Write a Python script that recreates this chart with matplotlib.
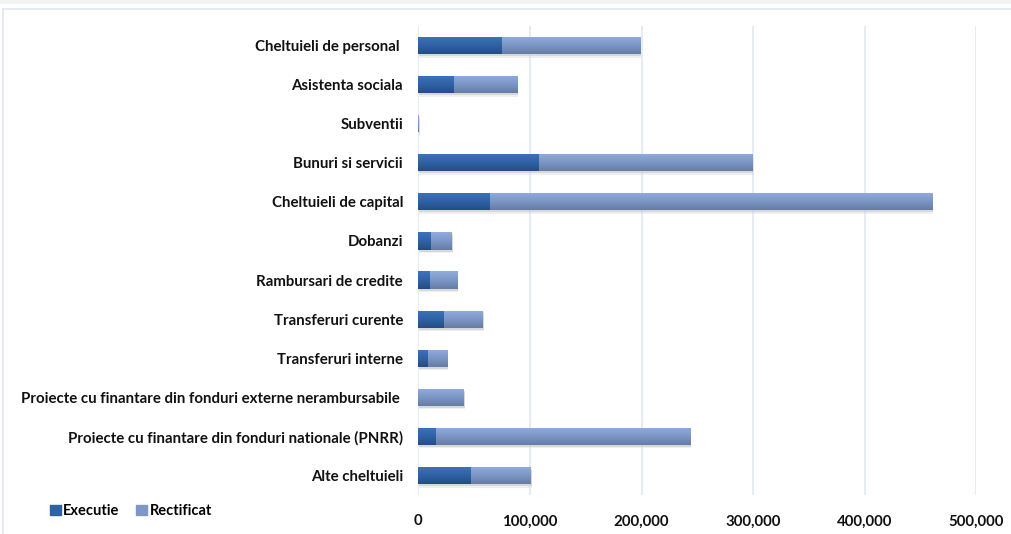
import matplotlib
matplotlib.use("Agg")
import matplotlib.pyplot as plt
import numpy as np
from matplotlib.patches import Rectangle
from matplotlib.colors import LinearSegmentedColormap
from matplotlib.ticker import FuncFormatter

categories = [
    "Cheltuieli de personal ",
    "Asistenta sociala",
    "Subventii",
    "Bunuri si servicii",
    "Cheltuieli de capital",
    "Dobanzi",
    "Rambursari de credite",
    "Transferuri curente",
    "Transferuri interne",
    "Proiecte cu finantare din fonduri externe nerambursabile ",
    "Proiecte cu finantare din fonduri nationale (PNRR)",
    "Alte cheltuieli",
]
executie = [75000, 31900, 0, 108200, 64200, 11300, 10400, 23000, 8600, 0, 15800, 47200]
rectificat = [123700, 56500, 600, 191600, 396400, 18800, 24200, 34900, 17100, 40900, 227800, 53700]
xticks = [0, 100000, 200000, 300000, 400000, 500000]

FONT = ["Lato", "DejaVu Sans"]
plt.rcParams["font.family"] = FONT

fig = plt.figure(figsize=(10.11, 5.34), dpi=100)
fig.patch.set_facecolor("white")

# light grey strip along the top and thin frame around the chart area
fig.patches.append(Rectangle((0, 1 - 3.5 / 534), 1, 3.5 / 534, transform=fig.transFigure,
                             facecolor="#f2f2f2", edgecolor="none", zorder=0))
fig.lines.append(plt.Line2D([3 / 1011, 3 / 1011], [0, 1 - 9 / 534], transform=fig.transFigure,
                            color="#dfe7f3", lw=1.2))
fig.lines.append(plt.Line2D([3 / 1011, 1], [1 - 9 / 534, 1 - 9 / 534], transform=fig.transFigure,
                            color="#dfe7f3", lw=1.2))

ax = fig.add_axes([418.4 / 1011, 1 - 495 / 534, (976.3 - 418.4) / 1011, (495 - 26) / 534])
ax.set_facecolor("none")

y = np.arange(len(categories))
h = 0.44

dark_cmap = LinearSegmentedColormap.from_list("dark", ["#3c74bb", "#2f63a5", "#234d85"])
light_cmap = LinearSegmentedColormap.from_list("light", ["#8fadde", "#7c97c6", "#667ca3"])

bars_e = ax.barh(y, executie, height=h, color="#2f62a3", edgecolor="none", zorder=3,
                 label="Executie")
bars_r = ax.barh(y, rectificat, left=executie, height=h, color="#7d97c6", edgecolor="none",
                 zorder=3, label="Rectificat")

grad = np.linspace(0, 1, 64).reshape(-1, 1)
for bars, cmap in ((bars_e, dark_cmap), (bars_r, light_cmap)):
    for b in bars:
        x0, y0, w, hh = b.get_x(), b.get_y(), b.get_width(), b.get_height()
        if w <= 0:
            continue
        # soft drop shadow just below each bar
        ax.add_patch(Rectangle((x0 + 500, y0 + 0.05), w, hh, facecolor="#bdbdbd",
                               edgecolor="none", alpha=0.45, zorder=2))
        ax.add_patch(Rectangle((x0 + 900, y0 + 0.09), w, hh, facecolor="#d9d9d9",
                               edgecolor="none", alpha=0.4, zorder=1.9))
        im = ax.imshow(grad, cmap=cmap, aspect="auto", extent=(x0, x0 + w, y0 + hh, y0),
                       origin="upper", zorder=3.5, interpolation="bilinear")
        im.set_clip_path(b)

ax.set_xlim(0, 500000)
ax.set_ylim(len(categories) - 0.5, -0.5)
ax.set_xticks(xticks)
ax.xaxis.set_major_formatter(FuncFormatter(lambda v, p: f"{int(v):,}"))
ax.set_yticks(y)
ax.set_yticklabels(categories)
ax.grid(axis="x", color="#e1e9f4", lw=1.2, zorder=0)
for s in ax.spines.values():
    s.set_visible(False)
ax.tick_params(axis="both", length=0)
ax.tick_params(axis="y", pad=11)
ax.tick_params(axis="x", pad=14)
for lbl in ax.get_yticklabels():
    lbl.set_fontsize(10.8)
    lbl.set_fontweight("bold")
    lbl.set_color("#111111")
for lbl in ax.get_xticklabels():
    lbl.set_fontsize(10.8)
    lbl.set_fontweight("bold")
    lbl.set_color("#111111")

leg = fig.legend(handles=[Rectangle((0, 0), 1, 1, color="#2f62a3"),
                          Rectangle((0, 0), 1, 1, color="#7d97c6")],
                 labels=["Executie", "Rectificat"], loc="center left",
                 bbox_to_anchor=(37 / 1011, 1 - 511 / 534), ncol=2, frameon=False,
                 prop={"weight": "bold", "size": 10.5, "family": FONT},
                 handlelength=0.75, handleheight=0.75, handletextpad=0.15, columnspacing=1.15)

fig.savefig("out.png", dpi=100, facecolor="white")
